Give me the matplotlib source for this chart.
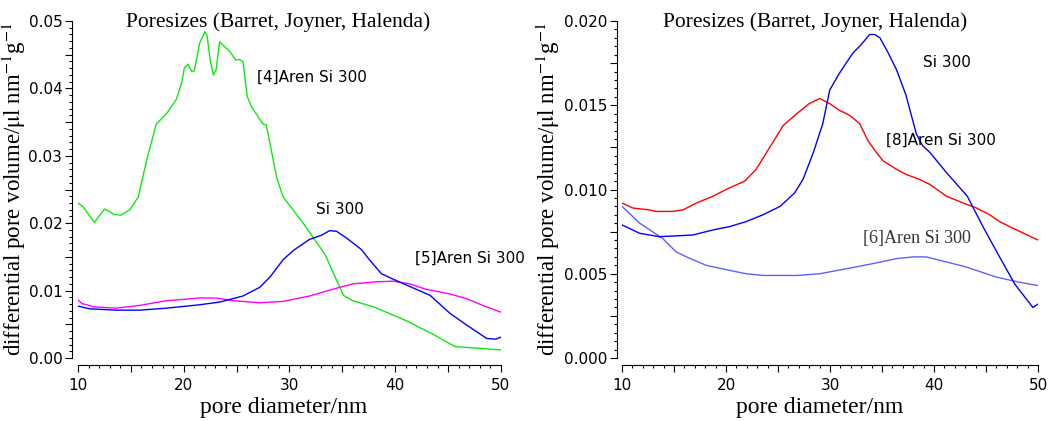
import numpy as np
import matplotlib.pyplot as plt
from matplotlib.ticker import MultipleLocator, FuncFormatter

plt.rcParams['mathtext.fontset'] = 'stix'

# BJH pore size distributions, pore diameter in nm, dV/dd in ul nm^-1 g^-1
d_4aren = [10, 10.5, 11.55, 12.5, 12.9, 13.4, 14.07, 14.9, 15.7, 16.5, 17.4, 18.4,
           19.3, 19.8, 20.05, 20.4, 20.75, 21.0, 21.5, 22.0, 22.2, 22.5, 22.8, 23.05,
           23.4, 23.6, 24.4, 24.9, 25.25, 25.6, 26.0, 26.4, 27.5, 27.8, 28.8, 29.4,
           31.3, 33.35, 35.1, 36.0, 38.1, 41.1, 43.6, 45.65, 50]
v_4aren = [0.0230, 0.0224, 0.0201, 0.0221, 0.0218, 0.0213, 0.0212, 0.0220, 0.0239,
           0.0294, 0.0347, 0.0363, 0.0384, 0.0408, 0.0430, 0.0436, 0.0425, 0.0426,
           0.0467, 0.0484, 0.0479, 0.0442, 0.0420, 0.0427, 0.0469, 0.0466, 0.0454,
           0.0442, 0.0443, 0.0440, 0.0388, 0.0373, 0.0347, 0.0346, 0.0267, 0.0239,
           0.0200, 0.0154, 0.0093, 0.0085, 0.0075, 0.0055, 0.0035, 0.0017, 0.0012]

d_si_a = [10, 11.1, 13.6, 15.8, 18.4, 21.5, 23.4, 25.6, 27.2, 28.2, 29.4, 30.4, 31.9,
          33.0, 33.8, 34.45, 35.4, 36.8, 37.6, 38.7, 39.8, 41.4, 43.3, 45.2, 46.75,
          48.65, 49.5, 50]
v_si_a = [0.0077, 0.0073, 0.0071, 0.0071, 0.0074, 0.0079, 0.0083, 0.0092, 0.0105,
          0.0121, 0.0146, 0.0160, 0.0176, 0.0182, 0.0189, 0.0188, 0.0178, 0.0161,
          0.0145, 0.0125, 0.0117, 0.0106, 0.0093, 0.0066, 0.0049, 0.0029, 0.0028,
          0.0031]

d_5aren = [10, 10.35, 11.45, 13.6, 15.8, 18.4, 21.5, 23.1, 24.7, 27.2, 29.4, 31.9,
           34.1, 36.0, 38.2, 39.8, 41.4, 42.9, 45.2, 46.75, 48.3, 50]
v_5aren = [0.0086, 0.0081, 0.0076, 0.0074, 0.0078, 0.0085, 0.0089, 0.0089, 0.0085,
           0.0082, 0.0084, 0.0092, 0.0102, 0.0110, 0.0113, 0.0114, 0.0110, 0.0102,
           0.0095, 0.0088, 0.0078, 0.0068]

d_si_b = [10, 11.7, 13.6, 16.8, 18.75, 20.35, 21.95, 23.55, 25.2, 26.6, 27.4, 28.4,
          29.3, 29.97, 30.9, 32.2, 33.0, 33.8, 34.3, 34.8, 35.6, 36.4, 37.3, 38.3,
          38.9, 39.6, 41.2, 43.2, 44.7, 46.3, 47.75, 49.5, 50]
v_si_b = [0.0079, 0.0074, 0.0072, 0.0073, 0.0076, 0.0078, 0.0081, 0.0085, 0.0090,
          0.0098, 0.0106, 0.0122, 0.0139, 0.0159, 0.0169, 0.0181, 0.0186, 0.0192,
          0.0192, 0.0190, 0.0181, 0.0171, 0.0156, 0.0133, 0.0126, 0.0122, 0.0110,
          0.0096, 0.0078, 0.0060, 0.0044, 0.0030, 0.0032]

d_8aren = [10, 11.05, 12.5, 13.3, 14.9, 15.9, 17.15, 18.75, 20.0, 21.8, 22.9, 24.2,
           25.5, 26.8, 28.0, 29.0, 29.97, 30.9, 31.9, 32.85, 33.65, 34.45, 35.1, 36.4,
           37.3, 38.6, 39.6, 41.2, 42.8, 44.1, 45.35, 46.3, 47.6, 50]
v_8aren = [0.0092, 0.0089, 0.0088, 0.0087, 0.0087, 0.0088, 0.0092, 0.0096, 0.0100,
           0.0105, 0.0112, 0.0125, 0.0138, 0.0145, 0.0151, 0.0154, 0.0151, 0.0147,
           0.0144, 0.0139, 0.0129, 0.0122, 0.0117, 0.0112, 0.0109, 0.0106, 0.0103,
           0.0096, 0.0092, 0.0089, 0.0085, 0.0081, 0.0077, 0.0070]

d_6aren = [10, 11.7, 13.9, 15.2, 16.2, 18.1, 20.35, 21.95, 23.55, 26.8, 29.0, 31.6,
           34.1, 36.4, 38.0, 39.25, 41.2, 43.1, 46.0, 48.2, 50]
v_6aren = [0.0090, 0.0080, 0.0071, 0.0063, 0.0060, 0.0055, 0.0052, 0.0050, 0.0049,
           0.0049, 0.0050, 0.0053, 0.0056, 0.0059, 0.0060, 0.0060, 0.0057, 0.0054,
           0.0048, 0.0045, 0.0043]

title = "Poresizes (Barret, Joyner, Halenda)"
xlab = "pore diameter/nm"
ylab = r"differential pore volume/$\mathrm{\mu}$l nm$^{-1}$g$^{-1}$"
serif = "Liberation Serif"


def every_other(step, fmt):
    # long ticks every half step, but only label the full steps
    def f(v, pos):
        n = int(round(v / step))
        return fmt % v if n % 2 == 0 else ""
    return FuncFormatter(f)


def frame(ax, ymax, ystep, yminor, fmt, yoff, title_x, xlab_x, ylab_x):
    ax.set_xlim(10, 50)
    ax.set_ylim(0, ymax)
    ax.spines["top"].set_visible(False)
    ax.spines["right"].set_visible(False)
    ax.spines["left"].set_position(("outward", yoff))
    ax.spines["bottom"].set_position(("outward", 5))
    ax.xaxis.set_major_locator(MultipleLocator(5))
    ax.xaxis.set_major_formatter(every_other(5, "%d"))
    ax.xaxis.set_minor_locator(MultipleLocator(1))
    ax.yaxis.set_major_locator(MultipleLocator(ystep))
    ax.yaxis.set_major_formatter(every_other(ystep, fmt))
    ax.yaxis.set_minor_locator(MultipleLocator(yminor))
    ax.tick_params(which="major", direction="out", length=5, width=0.8,
                   labelsize=11, labelfontfamily="DejaVu Sans")
    ax.tick_params(axis="x", which="major", pad=4.5)
    ax.tick_params(axis="y", which="major", pad=2)
    ax.tick_params(which="minor", direction="out", length=2.2, width=0.8)
    for s in ["left", "bottom"]:
        ax.spines[s].set_linewidth(0.8)
    ax.text(title_x, 0.997, title, transform=ax.transAxes, ha="center",
            va="center", fontsize=15.5, family=serif)
    ax.set_xlabel(xlab, fontsize=17, family=serif)
    ax.xaxis.set_label_coords(xlab_x, -0.115)
    ax.set_ylabel(ylab, fontsize=16.5, family=serif)
    ax.yaxis.set_label_coords(ylab_x, 0.5)


fig = plt.figure(figsize=(10.6, 4.21), dpi=100)
ax1 = fig.add_axes([0.0736, 0.1496, 0.399, 0.8005])
ax2 = fig.add_axes([0.5868, 0.1496, 0.3925, 0.8005])

frame(ax1, 0.05, 0.005, 0.001, "%.2f", 4.3, 0.473, 0.485, -0.118)
frame(ax2, 0.02, 0.0025, 0.0005, "%.3f", 3.6, 0.464, 0.476, -0.145)

ax1.plot(d_4aren, v_4aren, color="#10e810", lw=1.0)
ax1.plot(d_5aren, v_5aren, color="#ff00ff", lw=1.0)
ax1.plot(d_si_a, v_si_a, color="#0000ff", lw=1.0)

ax2.plot(d_6aren, v_6aren, color="#6060ff", lw=1.0)
ax2.plot(d_8aren, v_8aren, color="#ff0000", lw=1.0)
ax2.plot(d_si_b, v_si_b, color="#0000ff", lw=1.0)

ax1.text(26.9, 0.0417, "[4]Aren Si 300", fontsize=11, va="center")
ax1.text(32.5, 0.0221, "Si 300", fontsize=11, va="center")
ax1.text(41.9, 0.0148, "[5]Aren Si 300", fontsize=11, va="center")

ax2.text(38.9, 0.01755, "Si 300", fontsize=11, va="center")
ax2.text(35.4, 0.01292, "[8]Aren Si 300", fontsize=11, va="center")
ax2.text(33.2, 0.00711, "[6]Aren Si 300", fontsize=13, va="center",
         family=serif, color="#333333")

fig.savefig("out.png", dpi=100)
